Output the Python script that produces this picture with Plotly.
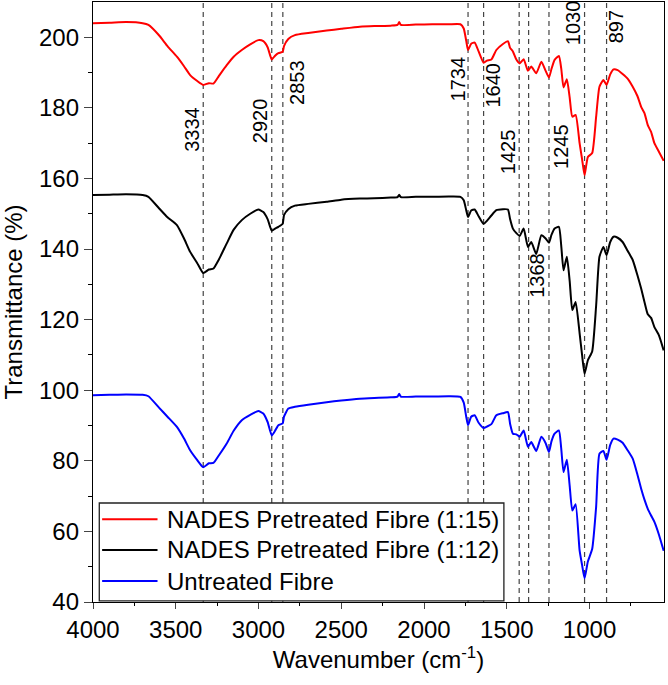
import plotly.graph_objects as go

# ---------------- data ----------------
wavenumber = [4000, 3900, 3800, 3700, 3665, 3600, 3550, 3493, 3450, 3413, 3370, 3334, 3300, 3272, 3240,
              3192, 3150, 3101, 3050, 3001, 2971, 2945, 2920, 2900, 2880, 2854, 2846, 2820, 2780, 2700,
              2588, 2500, 2388, 2300, 2200, 2160, 2150, 2140, 2050, 1950, 1850, 1780, 1760, 1745, 1734,
              1715, 1694, 1670, 1640, 1620, 1593, 1563, 1523, 1493, 1480, 1463, 1442, 1422, 1398, 1372,
              1352, 1322, 1291, 1265, 1245, 1230, 1211, 1185, 1171, 1157, 1137, 1120, 1104, 1084, 1060,
              1045, 1030, 1010, 984, 960, 940, 916, 897, 875, 855, 830, 800, 770, 739, 710,
              688, 668, 648, 628, 608, 580, 552]

nades_1_15 = [204.0, 204.1, 204.3, 204.0, 203.5, 200.5, 197.5, 194.5, 191.8, 189.3, 187.6, 186.5, 187.0, 186.9, 189.0,
              192.1, 194.5, 196.4, 198.0, 199.2, 198.9, 197.2, 193.7, 194.8, 195.5, 195.9, 197.5, 199.5, 200.6, 201.2,
              201.9, 202.4, 203.0, 203.2, 203.3, 203.5, 204.3, 203.5, 203.6, 203.7, 203.7, 203.7, 202.5, 199.0, 196.4,
              198.2, 198.5, 196.0, 192.8, 193.4, 193.7, 196.4, 198.1, 198.9, 197.0, 196.0, 193.7, 192.6, 193.8, 190.5,
              191.7, 189.8, 193.1, 190.5, 188.6, 191.0, 193.6, 194.7, 191.2, 185.8, 188.1, 183.0, 177.5, 178.0, 170.0,
              165.5, 160.9, 166.1, 167.2, 177.5, 186.0, 187.9, 186.5, 189.5, 190.9, 190.7, 189.6, 188.3, 186.0, 183.3,
              180.3, 178.5, 175.1, 173.2, 170.0, 167.5, 165.0]

nades_1_12 = [155.3, 155.4, 155.5, 155.3, 154.8, 151.5, 149.0, 146.8, 143.0, 139.2, 136.0, 133.2, 134.2, 134.5, 137.0,
              141.6, 145.5, 148.2, 150.0, 151.2, 150.5, 148.5, 145.2, 145.8, 146.3, 147.2, 149.6, 151.3, 152.3, 152.8,
              153.4, 154.0, 154.3, 154.4, 154.6, 154.7, 155.4, 154.7, 154.8, 154.8, 154.9, 154.8, 153.8, 151.0, 149.1,
              150.9, 151.2, 149.3, 147.1, 148.0, 149.5, 151.0, 151.3, 151.2, 148.5, 145.8, 144.5, 143.7, 145.8, 140.6,
              142.0, 138.6, 143.9, 143.0, 141.8, 144.0, 145.8, 146.3, 141.0, 134.0, 137.8, 131.0, 122.7, 125.0, 116.2,
              110.0, 104.7, 108.5, 111.0, 124.0, 137.8, 140.6, 138.3, 142.0, 143.5, 143.2, 142.0, 139.5, 136.9, 132.5,
              128.8, 125.0, 121.5, 120.5, 117.9, 115.5, 111.3]

untreated = [98.6, 98.7, 98.8, 98.7, 98.3, 95.0, 92.5, 89.6, 86.3, 83.0, 80.2, 78.2, 79.3, 79.4, 81.5,
             84.9, 88.5, 91.5, 93.0, 94.1, 93.4, 91.0, 87.2, 88.5, 90.1, 90.6, 92.5, 94.8, 95.3, 95.9,
             96.6, 97.1, 97.6, 97.8, 98.0, 98.2, 99.0, 98.2, 98.2, 98.2, 98.3, 98.1, 96.5, 92.5, 90.1,
             92.5, 92.9, 90.8, 89.3, 89.7, 90.4, 92.9, 93.5, 93.8, 90.5, 87.7, 87.5, 86.8, 88.6, 84.0,
             85.3, 82.8, 86.8, 85.0, 82.5, 85.5, 87.7, 88.6, 83.5, 76.8, 80.3, 73.0, 65.9, 67.7, 54.6,
             50.5, 46.7, 51.5, 55.0, 67.0, 82.0, 82.8, 80.3, 84.5, 86.3, 86.0, 85.1, 83.0, 80.6, 76.0,
             72.1, 69.0, 66.4, 64.5, 62.7, 59.0, 54.5]

series_names = ["NADES Pretreated Fibre (1:15)", "NADES Pretreated Fibre (1:12)", "Untreated Fibre"]
series_values = [nades_1_15, nades_1_12, untreated]
series_colors = ["#ff0000", "#000000", "#0000ff"]

# marked bands: wavenumber, label y (data), label x-shift (px)
band_wn = [3334, 2920, 2853, 1734, 1640, 1425, 1368, 1245, 1030, 897]
band_label_y = [174, 176.3, 187.3, 188.2, 186.5, 167.5, 132.6, 169.2, 204, 203]
band_label_shift = [-11.5, -11.5, 14, -10.5, 9, -11, 9, 12, -11.5, 9]

x_ticks = [4000, 3500, 3000, 2500, 2000, 1500, 1000]
y_ticks = [40, 60, 80, 100, 120, 140, 160, 180, 200]

FONT = "Liberation Sans, Arial, sans-serif"

fig = go.Figure()
for name, vals, col in zip(series_names, series_values, series_colors):
    fig.add_trace(go.Scatter(x=wavenumber, y=vals, mode="lines", name=name,
                             line=dict(color=col, width=2, shape="spline", smoothing=0.5),
                             showlegend=False))

for wn in band_wn:
    fig.add_shape(type="line", xref="x", yref="paper", x0=wn, x1=wn, y0=0, y1=1,
                  line=dict(color="#444444", width=1.2, dash="5px,4px"), layer="below")

for wn, ly, sh in zip(band_wn, band_label_y, band_label_shift):
    fig.add_annotation(x=wn, y=ly, xref="x", yref="y", text=str(wn), textangle=-90,
                       showarrow=False, xshift=sh, font=dict(family=FONT, size=20, color="black"))

# legend (drawn manually to match the long line samples)
leg_y = [0.138, 0.0867, 0.035]
fig.add_shape(type="rect", xref="paper", yref="paper", x0=0.011, x1=0.7196, y0=0.002, y1=0.165,
              line=dict(color="#222222", width=1.3), fillcolor="white", layer="above")
for name, col, yy in zip(series_names, series_colors, leg_y):
    fig.add_shape(type="line", xref="paper", yref="paper", x0=0.016, x1=0.113, y0=yy, y1=yy,
                  line=dict(color=col, width=2), layer="above")
    fig.add_annotation(x=0.1266, y=yy, xref="paper", yref="paper", text=name, showarrow=False,
                       xanchor="left", yanchor="middle", font=dict(family=FONT, size=24, color="black"))

fig.update_layout(
    width=668, height=685,
    margin=dict(l=93, r=4, t=2, b=83),
    paper_bgcolor="white", plot_bgcolor="white",
    font=dict(family=FONT, size=24, color="black"),
)
fig.update_xaxes(range=[4000, 550], tickvals=x_ticks, ticks="outside", ticklen=6, tickwidth=1.3,
                 showline=True, linecolor="black", linewidth=1.3, mirror=True, showgrid=False, zeroline=False,
                 tickfont=dict(family=FONT, size=24),
                 minor=dict(tickvals=[3750, 3250, 2750, 2250, 1750, 1250, 750], ticks="outside", ticklen=3,
                            tickwidth=1.3, tickcolor="black"),
                 title=dict(text="Wavenumber (cm<sup>-1</sup>)", font=dict(family=FONT, size=24), standoff=8))
fig.update_yaxes(range=[40, 210], tickvals=y_ticks, ticks="outside", ticklen=8, tickwidth=1.3,
                 showline=True, linecolor="black", linewidth=1.3, mirror=True, showgrid=False, zeroline=False,
                 tickfont=dict(family=FONT, size=24),
                 minor=dict(tickvals=[50, 70, 90, 110, 130, 150, 170, 190], ticks="outside", ticklen=4,
                            tickwidth=1.3, tickcolor="black"),
                 title=dict(text="Transmittance (%)", font=dict(family=FONT, size=24), standoff=12))

fig.write_html("out.html")
